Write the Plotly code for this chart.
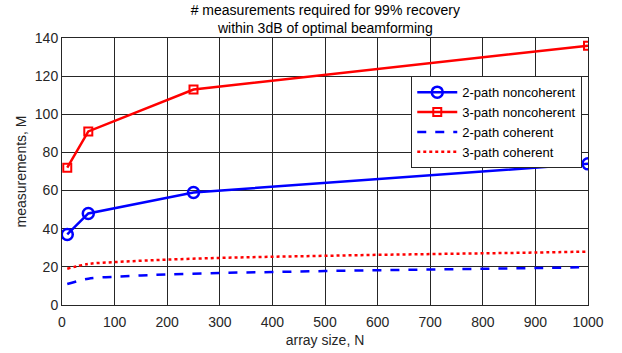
import plotly.graph_objects as go

# Data
n_noncoh = [10, 50, 250, 1000]
m_2path_noncoh = [37, 48, 59, 74]
m_3path_noncoh = [72, 91, 113, 136]

n_coh = [10, 50, 100, 150, 200, 300, 400, 500, 600, 700, 800, 900, 1000]
m_2path_coh = [11, 13.8, 14.8, 15.5, 16, 16.8, 17.3, 17.8, 18.2, 18.6, 19, 19.4, 19.8]
m_3path_coh = [19, 21.5, 22.5, 23.2, 23.8, 24.7, 25.3, 25.8, 26.3, 26.7, 27.1, 27.5, 28]

x_ticks = [0, 100, 200, 300, 400, 500, 600, 700, 800, 900, 1000]
y_ticks = [0, 20, 40, 60, 80, 100, 120, 140]

title_text = "# measurements required for 99% recovery<br>within 3dB of optimal beamforming"

fig = go.Figure()
fig.add_trace(go.Scatter(
    x=n_noncoh, y=m_2path_noncoh, mode="lines+markers", name="2-path noncoherent",
    line=dict(color="#0000ff", width=2.5),
    marker=dict(symbol="circle-open", size=11, color="#0000ff", line=dict(width=2.5)),
))
fig.add_trace(go.Scatter(
    x=n_noncoh, y=m_3path_noncoh, mode="lines+markers", name="3-path noncoherent",
    line=dict(color="#ff0000", width=2.5),
    marker=dict(symbol="square-open", size=8, color="#ff0000", line=dict(width=2)),
))
fig.add_trace(go.Scatter(
    x=n_coh, y=m_2path_coh, mode="lines", name="2-path coherent",
    line=dict(color="#0000ff", width=2.5, dash="dash", shape="spline"),
))
fig.add_trace(go.Scatter(
    x=n_coh, y=m_3path_coh, mode="lines", name="3-path coherent",
    line=dict(color="#ff0000", width=2.5, dash="dot", shape="spline"),
))

axis_common = dict(
    showline=True, linecolor="#262626", linewidth=1, mirror=True,
    showgrid=True, gridcolor="#262626", gridwidth=1, zeroline=False,
    ticks="", tickfont=dict(size=14, color="#262626"), automargin=False,
)

fig.update_layout(
    width=622, height=353,
    margin=dict(l=62, r=34, t=38, b=48),
    paper_bgcolor="white", plot_bgcolor="white",
    font=dict(family="Liberation Sans, Arial, sans-serif", color="#262626"),
    title=dict(text=title_text, x=0.523, xanchor="center", y=0.957, yanchor="top",
               font=dict(size=14, color="#000000")),
    xaxis=dict(range=[0, 1000], tickvals=x_ticks, ticklabelstandoff=4,
               title=dict(text="array size, N", font=dict(size=14), standoff=6),
               **axis_common),
    yaxis=dict(range=[0, 140], tickvals=y_ticks,
               title=dict(text="measurements, M", font=dict(size=14), standoff=4),
               **axis_common),
    legend=dict(x=0.664, y=0.857, xanchor="left", yanchor="top",
                bgcolor="white", bordercolor="#262626", borderwidth=1,
                font=dict(size=13, color="#000000"), tracegroupgap=0,
                itemwidth=40),
    showlegend=True,
)

fig.write_html("out.html", config={"displayModeBar": False},
               post_script="document.body.style.margin='0';")
